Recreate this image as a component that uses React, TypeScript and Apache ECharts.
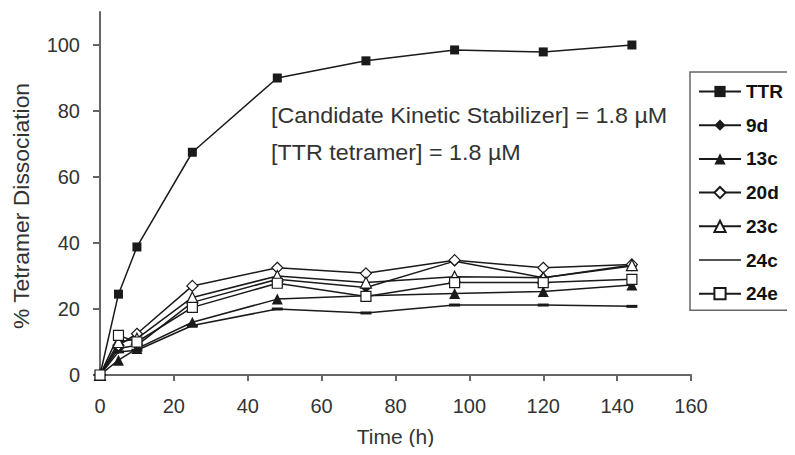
import React, { useEffect, useRef } from "react";
import * as echarts from "echarts";

const times = [0, 5, 10, 25, 48, 72, 96, 120, 144];
const ttr = [0, 24.5, 38.8, 67.5, 90, 95.2, 98.5, 97.9, 100];
const s9d = [0, 8, 9, 22, 29, 26.5, 34.5, 29.5, 33];
const s13c = [0, 4.5, 8, 16, 23, 24, 24.7, 25.3, 27.3];
const s20d = [0, 9, 12.5, 27, 32.5, 30.8, 34.8, 32.5, 33.5];
const s23c = [0, 10, 11, 23.5, 30, 28, 29.8, 29.5, 33.3];
const s24c = [0, 7, 7.5, 15, 20, 18.8, 21.2, 21.2, 20.8];
const s24e = [0, 12, 10, 20.5, 27.8, 23.8, 28, 28, 29];
const yTicks = [0, 20, 40, 60, 80, 100];
const annotation = [
  "[Candidate Kinetic Stabilizer] = 1.8 \u00b5M",
  "[TTR tetramer] = 1.8 \u00b5M",
];

const FONT = "'Liberation Sans', Arial, sans-serif";
const LINE = "#1a1a1a";

function pairs(ys: number[]) {
  return times.map((t, i) => [t, ys[i]]);
}

export default function App() {
  const ref = useRef<HTMLDivElement>(null);
  useEffect(() => {
    if (!ref.current) return;
    const chart = echarts.init(ref.current, null, { renderer: "svg" });
    const mk = (
      name: string,
      ys: number[],
      symbol: string,
      size: number | number[],
      filled: boolean
    ) => ({
      name,
      type: "line",
      data: pairs(ys),
      symbol,
      symbolSize: size,
      showAllSymbol: true,
      lineStyle: { color: LINE, width: 1.5 },
      itemStyle: {
        color: filled ? LINE : "#ffffff",
        borderColor: LINE,
        borderWidth: filled ? 0 : 1.2,
      },
      emphasis: { disabled: true },
      z: 3,
    });
    chart.setOption({
      animation: false,
      backgroundColor: "#ffffff",
      textStyle: { fontFamily: FONT },
      grid: {
        left: 100,
        right: 104,
        top: 12,
        bottom: 80,
        containLabel: false,
        outerBoundsMode: "none",
      },
      xAxis: {
        type: "value",
        min: 0,
        max: 160,
        interval: 20,
        name: "Time (h)",
        nameLocation: "middle",
        nameGap: 51,
        nameTextStyle: { fontSize: 21, color: "#333", fontFamily: FONT },
        axisLine: { show: true, lineStyle: { color: "#666", width: 2 } },
        axisTick: { show: true, length: 6, lineStyle: { color: "#666", width: 2 } },
        axisLabel: { fontSize: 20, color: "#333", margin: 21, fontFamily: FONT },
        splitLine: { show: false },
      },
      yAxis: {
        type: "value",
        min: 0,
        max: 110,
        interval: 20,
        axisLine: { show: true, lineStyle: { color: "#666", width: 2 } },
        axisTick: {
          show: true,
          length: 7,
          customValues: yTicks,
          lineStyle: { color: "#666", width: 2 },
        },
        axisLabel: {
          fontSize: 20,
          color: "#333",
          margin: 20,
          customValues: yTicks,
          fontFamily: FONT,
        },
        splitLine: { show: false },
      },
      legend: {
        orient: "vertical",
        left: 690,
        top: 72,
        padding: [10, 20, 7, 8],
        itemWidth: 42,
        itemHeight: 14,
        itemGap: 14.7,
        borderColor: "#666",
        borderWidth: 1.5,
        backgroundColor: "#fff",
        textStyle: { fontSize: 19, fontWeight: "bold", color: "#111", fontFamily: FONT },
        data: [
          "TTR",
          "9d",
          "13c",
          "20d",
          "23c",
          { name: "24c", icon: "path://M0,0 L42,0 L42,1.5 L0,1.5 Z" },
          "24e",
        ],
      },
      graphic: [
        {
          type: "text",
          x: 22,
          y: 206,
          rotation: Math.PI / 2,
          scaleX: 1.04,
          style: {
            text: "% Tetramer Dissociation",
            fontSize: 22,
            fill: "#333",
            fontFamily: FONT,
            align: "center",
            verticalAlign: "middle",
          },
        },
        {
          type: "text",
          x: 271,
          y: 115,
          scaleX: 1.06,
          style: {
            text: annotation[0],
            fontSize: 22,
            fill: "#333",
            fontFamily: FONT,
            align: "left",
            verticalAlign: "middle",
          },
        },
        {
          type: "text",
          x: 271,
          y: 152,
          scaleX: 1.06,
          style: {
            text: annotation[1],
            fontSize: 22,
            fill: "#333",
            fontFamily: FONT,
            align: "left",
            verticalAlign: "middle",
          },
        },
      ],
      series: [
        mk("TTR", ttr, "rect", 9, true),
        mk("9d", s9d, "diamond", 11, true),
        mk("13c", s13c, "triangle", 11, true),
        mk("20d", s20d, "diamond", 11, false),
        mk("23c", s23c, "triangle", 11, false),
        mk("24c", s24c, "rect", [11, 3], true),
        mk("24e", s24e, "rect", 10, false),
      ],
    });
    return () => chart.dispose();
  }, []);
  return <div ref={ref} style={{ width: 795, height: 455, margin: -8 }} />;
}
